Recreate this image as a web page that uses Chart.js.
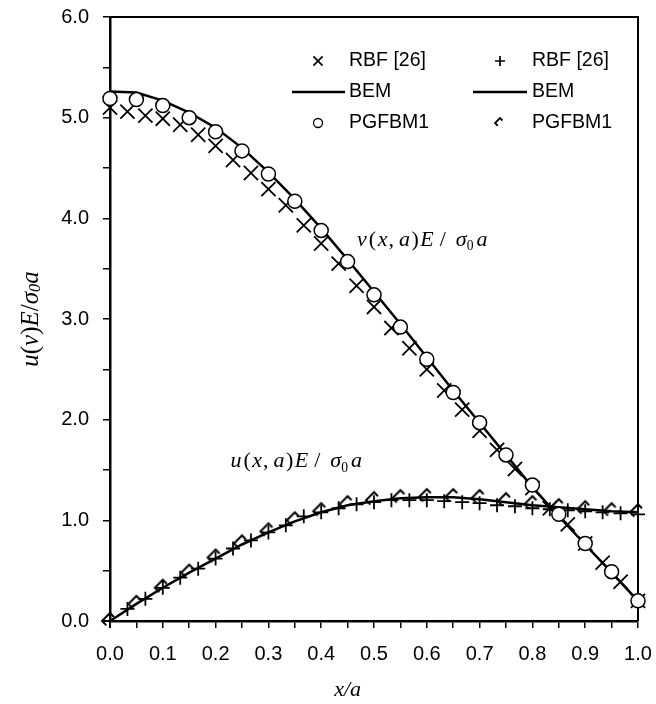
<!DOCTYPE html>
<html><head><meta charset="utf-8">
<script src="https://cdn.jsdelivr.net/npm/chart.js@4/dist/chart.umd.min.js"></script>
<style>html,body{margin:0;padding:0;background:#fff;}#wrap{width:656px;height:704px;}</style>
</head><body><div id="wrap"><canvas id="c" width="656" height="704"></canvas></div>
<script>
// ---- data ----
const xBEM = [0,0.05,0.1,0.15,0.2,0.25,0.3,0.35,0.4,0.45,0.5,0.55,0.6,0.65,0.7,0.75,0.8,0.85,0.9,0.95,1.0];
const vBEM = [5.26,5.25,5.17,5.05,4.90,4.70,4.46,4.19,3.90,3.59,3.27,2.95,2.62,2.29,1.97,1.65,1.33,1.04,0.76,0.48,0.20];
const vPGFBM1 = [5.19,5.18,5.12,5.00,4.86,4.67,4.44,4.17,3.88,3.57,3.24,2.92,2.60,2.27,1.97,1.65,1.35,1.06,0.77,0.49,0.20];
const uBEM = [0,0.17,0.33,0.48,0.62,0.76,0.88,0.99,1.08,1.15,1.19,1.22,1.23,1.23,1.21,1.18,1.15,1.13,1.11,1.09,1.08];
const uPGFBM1 = [0,0.17,0.33,0.48,0.63,0.77,0.89,1.00,1.09,1.16,1.20,1.22,1.23,1.23,1.22,1.19,1.16,1.13,1.11,1.09,1.08];
const xRBF = [0,0.033,0.067,0.1,0.133,0.167,0.2,0.233,0.267,0.3,0.333,0.367,0.4,0.433,0.467,0.5,0.533,0.567,0.6,0.633,0.667,0.7,0.733,0.767,0.8,0.833,0.867,0.9,0.933,0.967,1.0];
const vRBF = [5.10,5.06,5.02,4.99,4.93,4.83,4.72,4.58,4.45,4.29,4.13,3.93,3.75,3.55,3.33,3.12,2.91,2.71,2.50,2.29,2.10,1.89,1.70,1.51,1.32,1.12,0.96,0.77,0.58,0.39,0.20];
const uRBF = [0,0.12,0.22,0.33,0.43,0.52,0.62,0.72,0.80,0.88,0.95,1.04,1.08,1.12,1.16,1.18,1.20,1.20,1.20,1.19,1.18,1.17,1.15,1.14,1.12,1.11,1.10,1.09,1.08,1.07,1.06];
const seriesLabels = ['RBF [26]','BEM','PGFBM1'];
const xTitle = 'x/a';
// annotation anchors (data coordinates)
const vNote = {x:0.468, y:3.73, first:'v'};
const uNote = {x:0.228, y:1.53, first:'u'};

const pts = (xs, ys) => xs.map((x,i)=>({x, y:ys[i]}));

function makeHalfDiamond(r, lw){
  const s = Math.ceil(2*r+6), c = s/2;
  const cv = document.createElement('canvas'); cv.width = s; cv.height = s;
  const g = cv.getContext('2d');
  g.strokeStyle = '#000'; g.lineWidth = lw; g.lineCap='butt'; g.lineJoin='miter';
  g.beginPath();
  g.moveTo(c - r*0.45, c + r*0.55); g.lineTo(c - r, c); g.lineTo(c, c - r); g.lineTo(c + r*0.5, c - r*0.5);
  g.stroke();
  return cv;
}
const diamondBig = makeHalfDiamond(8, 2);
const diamondSmall = makeHalfDiamond(5, 1.8);

const FONT_SANS = "'Liberation Sans', Arial, sans-serif";
const FONT_SERIF = "'Liberation Serif', 'Times New Roman', serif";

function drawMath(ctx, x, y, first, size){
  const pieces = [
    {t:first, it:true, gap:2},{t:'(', it:false, gap:1.5},{t:'x', it:true, gap:1},{t:',', it:false, gap:5},
    {t:'a', it:true, gap:1.5},{t:')', it:false, gap:1.5},{t:'E', it:true, gap:6},{t:'/', it:false, gap:10},
    {t:'σ', it:true, gap:0},{t:'0', it:false, sub:true, gap:3},{t:'a', it:true, gap:0}
  ];
  let cx = x;
  ctx.save(); ctx.fillStyle = '#000'; ctx.textBaseline = 'alphabetic'; ctx.textAlign = 'left';
  for (const p of pieces){
    const fs = p.sub ? size*0.62 : size;
    ctx.font = (p.it ? 'italic ' : '') + fs + 'px ' + FONT_SERIF;
    ctx.fillText(p.t, cx, y + (p.sub ? size*0.22 : 0));
    cx += ctx.measureText(p.t).width + p.gap;
  }
  ctx.restore();
}

const decorPlugin = {
  id:'decor',
  beforeDatasetsDraw(chart){
    const {ctx, chartArea:a} = chart;
    ctx.save(); ctx.strokeStyle = '#000'; ctx.lineWidth = 2;
    ctx.beginPath();
    ctx.moveTo(a.left, a.top); ctx.lineTo(a.right, a.top); ctx.lineTo(a.right, a.bottom);
    ctx.stroke(); ctx.restore();
  },
  afterDraw(chart){
    const {ctx, chartArea:a, scales} = chart;
    const xs = scales.x, ys = scales.y;
    drawMath(ctx, xs.getPixelForValue(vNote.x), ys.getPixelForValue(vNote.y), vNote.first, 22);
    drawMath(ctx, xs.getPixelForValue(uNote.x), ys.getPixelForValue(uNote.y), uNote.first, 22);
    // x title
    ctx.save(); ctx.fillStyle='#000';
    ctx.font = 'italic 22px ' + FONT_SERIF; ctx.textAlign='center'; ctx.textBaseline='middle';
    ctx.fillText(xTitle, a.left + (a.right-a.left)*0.45, 690);
    ctx.restore();
    // y title rotated: u(v)E/σ0a
    ctx.save(); ctx.translate(31, (a.top+a.bottom)/2); ctx.rotate(-Math.PI/2);
    ctx.fillStyle='#000'; ctx.textBaseline='middle';
    const yp = [{t:'u',it:true},{t:'(',it:false},{t:'v',it:true},{t:')',it:false},{t:'E',it:true},{t:'/',it:false},{t:'σ',it:true},{t:'0',it:true,sub:true},{t:'a',it:true}];
    const ysz = 25;
    let tot = 0;
    for (const p of yp){ ctx.font=(p.it?'italic ':'')+(p.sub?ysz*0.65:ysz)+'px '+FONT_SERIF; tot += ctx.measureText(p.t).width; }
    let cx = -tot/2;
    for (const p of yp){
      ctx.font=(p.it?'italic ':'')+(p.sub?ysz*0.65:ysz)+'px '+FONT_SERIF;
      ctx.fillText(p.t, cx, p.sub ? 5 : 0); cx += ctx.measureText(p.t).width;
    }
    ctx.restore();
    // legend: two columns
    const rows = [44, 75, 106];
    const cols = [{mx:208, tx:239, lx0:182, lx1:235, sets:[0,1,2]},{mx:390, tx:422, lx0:363, lx1:417, sets:[3,4,5]}];
    ctx.save();
    for (const c of cols){
      c.sets.forEach((di, r)=>{
        const ds = chart.data.datasets[di];
        const y = a.top + rows[r];
        ctx.strokeStyle='#000'; ctx.fillStyle='#fff';
        if (ds.showLine){
          ctx.lineWidth = 2.5; ctx.beginPath();
          ctx.moveTo(a.left + c.lx0, y); ctx.lineTo(a.left + c.lx1, y); ctx.stroke();
        } else {
          const ps = ds.legendStyle;
          ctx.lineWidth = ps.borderWidth;
          Chart.helpers.drawPoint(ctx, {pointStyle: ps.pointStyle, radius: ps.radius, rotation:0, borderWidth: ps.borderWidth}, a.left + c.mx, y);
        }
        ctx.fillStyle='#000'; ctx.font = '19.5px ' + FONT_SANS; ctx.textAlign='left'; ctx.textBaseline='middle';
        ctx.fillText(ds.label, a.left + c.tx, y);
      });
    }
    ctx.restore();
  }
};

new Chart(document.getElementById('c'), {
  type:'scatter',
  data:{datasets:[
    {label:seriesLabels[0], data:pts(xRBF, vRBF), pointStyle:'crossRot', pointRadius:10, borderColor:'#000', pointBorderWidth:1.8, showLine:false, order:2, clip:false,
      legendStyle:{pointStyle:'crossRot', radius:6.5, borderWidth:1.7}},
    {label:seriesLabels[1], data:pts(xBEM, vBEM), showLine:true, borderColor:'#000', borderWidth:2.5, pointRadius:0, tension:0, order:3, clip:false},
    {label:seriesLabels[2], data:pts(xBEM, vPGFBM1), pointStyle:'circle', pointRadius:7, borderColor:'#000', backgroundColor:'#fff', pointBorderWidth:1.5, showLine:false, order:1, clip:false,
      legendStyle:{pointStyle:'circle', radius:4.5, borderWidth:1.3}},
    {label:seriesLabels[0], data:pts(xRBF, uRBF), pointStyle:'cross', pointRadius:7, borderColor:'#000', pointBorderWidth:1.8, showLine:false, order:2, clip:false,
      legendStyle:{pointStyle:'cross', radius:5, borderWidth:1.7}},
    {label:seriesLabels[1], data:pts(xBEM, uBEM), showLine:true, borderColor:'#000', borderWidth:2.5, pointRadius:0, tension:0, order:3, clip:false},
    {label:seriesLabels[2], data:pts(xBEM, uPGFBM1), pointStyle:diamondBig, pointRadius:8, borderColor:'#000', showLine:false, order:1, clip:false,
      legendStyle:{pointStyle:diamondSmall, radius:5, borderWidth:1.6}}
  ]},
  options:{
    responsive:false, animation:false, devicePixelRatio:1,
    layout:{padding:{top:17, right:18, left:0, bottom:0}},
    plugins:{legend:{display:false}, tooltip:{enabled:false}},
    scales:{
      x:{type:'linear', min:0, max:1,
        afterFit(s){ s.height = 83; s.paddingLeft = 0; s.paddingRight = 0; },
        ticks:{stepSize:0.05, autoSkip:false, maxRotation:0, color:'#000', padding:14, font:{family:FONT_SANS, size:20},
          callback:(v)=>{ const k=Math.round(v*20); return k%2===0 ? (k/20).toFixed(1) : ''; }},
        grid:{drawOnChartArea:false, drawTicks:true, tickLength:7, color:'#000', lineWidth:1.5},
        border:{display:true, color:'#000', width:2.5}
      },
      y:{type:'linear', min:0, max:6,
        afterFit(s){ s.width = 110; s.paddingTop = 0; s.paddingBottom = 0; },
        ticks:{stepSize:0.5, autoSkip:false, color:'#000', padding:14, font:{family:FONT_SANS, size:20},
          callback:(v)=>{ const k=Math.round(v*2); return k%2===0 ? (k/2).toFixed(1) : ''; }},
        grid:{drawOnChartArea:false, drawTicks:true, tickLength:7, color:'#000', lineWidth:1.5},
        border:{display:true, color:'#000', width:2.5}
      }
    }
  },
  plugins:[decorPlugin]
});
</script></body></html>
